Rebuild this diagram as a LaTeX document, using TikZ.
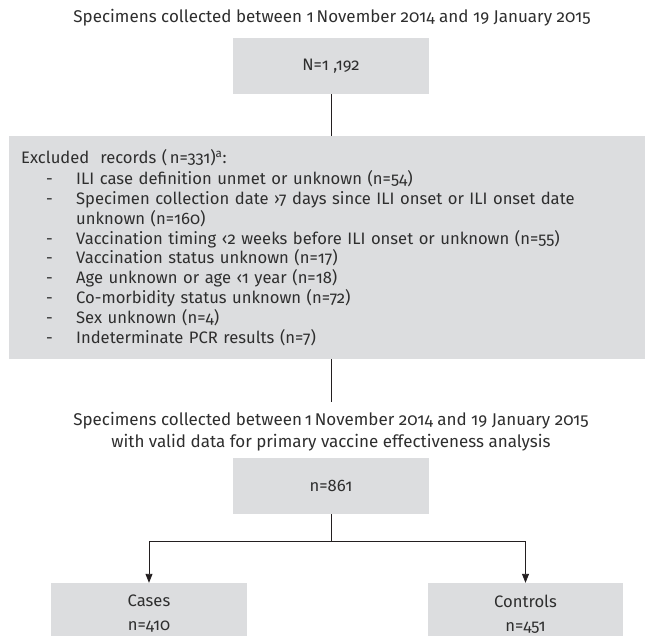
\documentclass[tikz,border=0pt]{standalone}
\usepackage{fontspec}
\setmainfont{Fira Sans}[Numbers=OldStyle]
\usetikzlibrary{arrows.meta}
\definecolor{boxgray}{HTML}{DCDDDF}
\definecolor{ink}{HTML}{2E2E2E}
\definecolor{linec}{HTML}{231F20}
\newcommand\itm{\hspace*{25pt}\makebox[30pt][l]{-}}
\newcommand\itmc{\hspace*{55pt}}
\begin{document}
\begin{tikzpicture}[x=1pt,y=-1pt,
  every node/.style={text=ink},
  grayrect/.style={fill=boxgray, draw=none, inner sep=0pt, font=\fontsize{16.6}{24}\selectfont, align=center},
  conn/.style={draw=linec, line width=0.9pt},
  arr/.style={conn, -{Triangle[length=9pt,width=7pt]}},
  txt/.style={font=\fontsize{17}{22}\selectfont, align=center, inner sep=0pt}]
\useasboundingbox (0,0) rectangle (645,635);
\clip (0,0) rectangle (645,635);
\node[txt] (title) at (332,18) {Specimens collected between 1\,November 2014 and 19 January 2015};
\node[grayrect, minimum width=196pt, minimum height=56pt] (n1) at (331,66) {N=1 ,192};
\node[grayrect, anchor=north west, minimum width=636pt, minimum height=223pt, text width=612pt, inner xsep=12pt, align=left, font=\fontsize{16.6}{19.8}\selectfont] (excl) at (9,136) {%
Excluded\ \ records (\,n=331)\textsuperscript{a}:\\[1pt]
\itm ILI case definition unmet or unknown (n=54)\\
\itm Specimen collection date ›7 days since ILI onset or ILI onset date\\
\itmc unknown (n=160)\\
\itm Vaccination timing ‹2 weeks before ILI onset or unknown (n=55)\\
\itm Vaccination status unknown (n=17)\\
\itm Age unknown or age ‹1 year (n=18)\\
\itm Co-morbidity status unknown (n=72)\\
\itm Sex unknown (n=4)\\
\itm Indeterminate PCR results (n=7)};
\draw[conn] (n1.south) -- (n1.south |- excl.north);
\coordinate (e1) at (331,402);
\draw[conn] (n1.south |- excl.south) -- (e1);
\node[txt] (cap) at (331,432) {Specimens collected between\,1\,November 2014 and 19 January 2015\\with valid data for primary vaccine effectiveness analysis};
\node[grayrect, minimum width=196pt, minimum height=56pt] (n2) at (331,486) {n=861};
\node[grayrect, minimum width=196pt, minimum height=62pt] (cases) at (149,614) {Cases\\n=410};
\node[grayrect, minimum width=195pt, minimum height=62pt] (ctrl) at (525.5,614) {Controls\\n=451};
\coordinate (br) at (331,541);
\draw[conn] (n2.south) -- (br);
\draw[arr] (br) -| (cases.north);
\draw[arr] (br) -| (ctrl.north);
\end{tikzpicture}
\end{document}
